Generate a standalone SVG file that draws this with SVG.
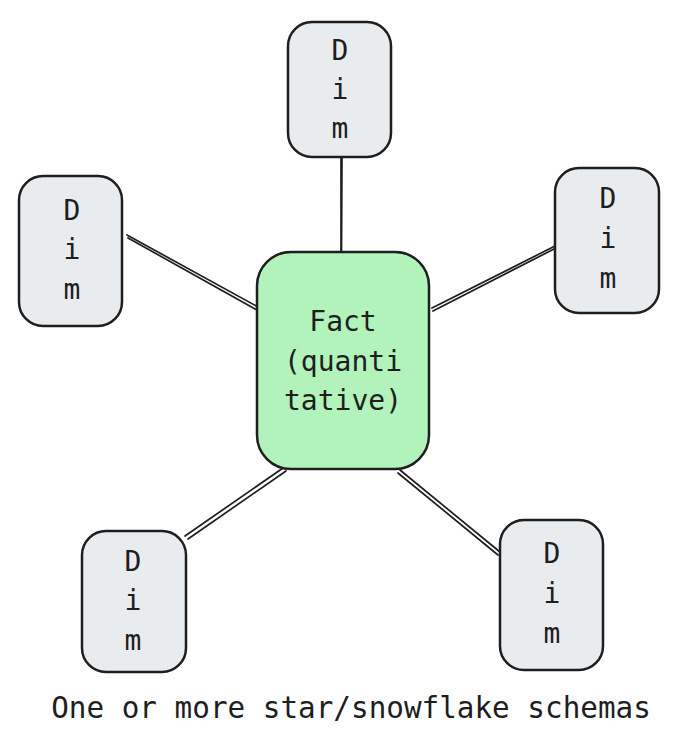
<svg xmlns="http://www.w3.org/2000/svg" width="678" height="749" viewBox="0 0 678 749">
<style>
.dim{fill:#e9ecef;stroke:#1e1e1e;stroke-width:2.5}
.fact{fill:#b2f2bb;stroke:#1e1e1e;stroke-width:2.5}
.t{font-family:"DejaVu Sans Mono","Liberation Mono",monospace;font-size:28px;fill:#1e1e1e;text-anchor:middle}
.cap{font-size:29.3px}
.c{fill:none;stroke:#1e1e1e;stroke-width:1.7;stroke-linecap:round}
</style>
<rect width="678" height="749" fill="#ffffff"/>
<g id="connectors">
<path class="c" d="M341 158 L341 252 M342 158 L341.5 251"/>
<path class="c" d="M127 235 L258 307 M128 238 L257 310"/>
<path class="c" d="M432 308 L555 246 M433 311 L554 249"/>
<path class="c" d="M185 536 L283 468 M188 539 L286 471"/>
<path class="c" d="M400 470 L500 552 M398 473 L498 555"/>
</g>
<g id="fact">
<rect class="fact" x="257" y="252" width="172" height="217" rx="34"/>
<text class="t" x="343" y="331">Fact</text>
<text class="t" x="343" y="371">(quanti</text>
<text class="t" x="343" y="410">tative)</text>
</g>
<g id="dim-top">
<rect class="dim" x="288" y="22" width="103" height="135" rx="24"/>
<text class="t" x="340" y="60">D</text>
<text class="t" x="340" y="99">i</text>
<text class="t" x="340" y="138">m</text>
</g>
<g id="dim-left">
<rect class="dim" x="19" y="176" width="103" height="150" rx="24"/>
<text class="t" x="72" y="220">D</text>
<text class="t" x="72" y="259">i</text>
<text class="t" x="72" y="299">m</text>
</g>
<g id="dim-right">
<rect class="dim" x="555" y="168" width="104" height="145" rx="24"/>
<text class="t" x="608" y="208">D</text>
<text class="t" x="608" y="248">i</text>
<text class="t" x="608" y="288">m</text>
</g>
<g id="dim-bottom-left">
<rect class="dim" x="82" y="531" width="104" height="141" rx="24"/>
<text class="t" x="133" y="571">D</text>
<text class="t" x="133" y="610">i</text>
<text class="t" x="133" y="650">m</text>
</g>
<g id="dim-bottom-right">
<rect class="dim" x="500" y="520" width="103" height="150" rx="24"/>
<text class="t" x="552" y="563">D</text>
<text class="t" x="552" y="603">i</text>
<text class="t" x="552" y="643">m</text>
</g>
<g id="caption">
<text class="t cap" x="351" y="718">One or more star/snowflake schemas</text>
</g>
</svg>
